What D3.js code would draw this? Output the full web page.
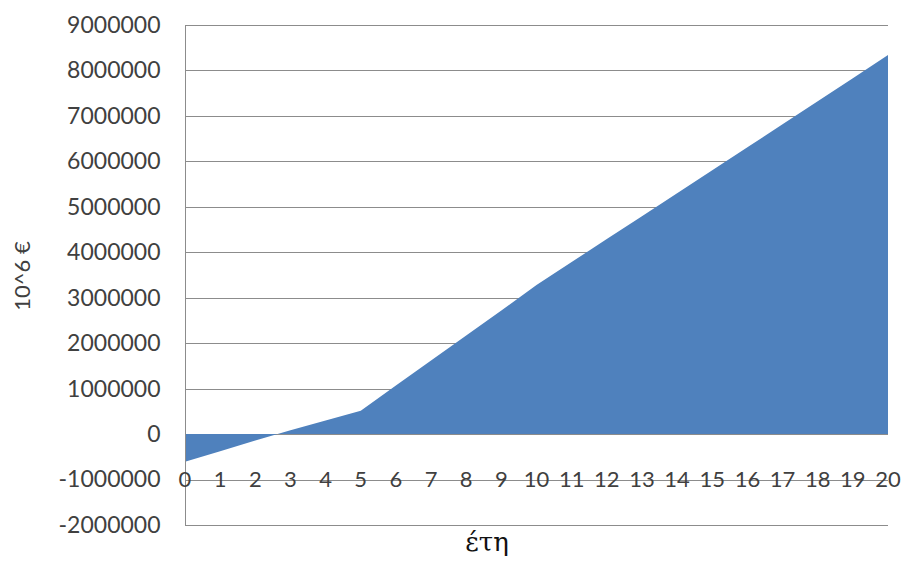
<!DOCTYPE html>
<html>
<head>
<meta charset="utf-8">
<script src="https://cdn.jsdelivr.net/npm/d3@7"></script>
<style>
  html, body { margin: 0; padding: 0; background: #fff; }
  svg { display: block; }
</style>
</head>
<body>
<svg id="chart" width="904" height="563"></svg>
<script>
// Years on the horizontal axis
const years = [0, 1, 2, 3, 4, 5, 6, 7, 8, 9, 10, 11, 12, 13, 14, 15, 16, 17, 18, 19, 20];
// Cumulative value per year
const values = [-610000, -376000, -142000, 85000, 300000, 515000, 1070000, 1620000, 2170000, 2720000,
                3280000, 3785000, 4290000, 4795000, 5300000, 5805000, 6310000, 6815000, 7320000, 7830000, 8340000];
// Value-axis tick labels
const yTicks = [-2000000, -1000000, 0, 1000000, 2000000, 3000000, 4000000, 5000000, 6000000, 7000000, 8000000, 9000000];

const yTitle = "10^6 €";
const xTitle = "έτη";

const svg = d3.select("#chart");
const plotLeft = 185, plotRight = 888, plotTop = 25, plotBottom = 525;

const x = d3.scaleLinear().domain([0, 20]).range([plotLeft, plotRight]);
const y = d3.scaleLinear().domain([-2000000, 9000000]).range([plotBottom, plotTop]);

const grid = "#8c8c8c";
const labelFont = "Lato, 'Open Sans', sans-serif";

// horizontal gridlines
svg.append("g")
  .selectAll("line")
  .data(yTicks)
  .join("line")
  .attr("x1", plotLeft).attr("x2", plotRight)
  .attr("y1", d => Math.round(y(d)) + 0.5)
  .attr("y2", d => Math.round(y(d)) + 0.5)
  .attr("stroke", grid)
  .attr("stroke-width", 1);

// filled area measured from zero
const area = d3.area()
  .x((d, i) => x(years[i]))
  .y0(y(0))
  .y1(d => y(d));

svg.append("path")
  .datum(values)
  .attr("d", area)
  .attr("fill", "#4f81bd");

// value axis (plain hyphen for negatives)
const yAxis = svg.append("g")
  .attr("transform", `translate(${plotLeft + 0.5},0)`)
  .call(d3.axisLeft(y).tickValues(yTicks).tickSize(0).tickPadding(25).tickFormat(d => String(d)));
yAxis.select(".domain").attr("stroke", grid).attr("d", `M0,${plotTop}V${plotBottom}`);
yAxis.selectAll("text")
  .attr("font-family", labelFont)
  .attr("font-size", 23)
  .attr("fill", "#404040");

// category labels along the -1000000 line
svg.append("g")
  .selectAll("text")
  .data(years)
  .join("text")
  .attr("x", d => x(d))
  .attr("y", y(-1000000) + 7)
  .attr("text-anchor", "middle")
  .attr("font-family", labelFont)
  .attr("font-size", 22)
  .attr("fill", "#404040")
  .text(d => d);

// axis titles
svg.append("text")
  .attr("transform", "translate(30,276) rotate(-90)")
  .attr("text-anchor", "middle")
  .attr("font-family", labelFont)
  .attr("font-size", 22)
  .attr("fill", "#404040")
  .text(yTitle);

svg.append("text")
  .attr("x", 487)
  .attr("y", 551)
  .attr("text-anchor", "middle")
  .attr("font-family", "'DejaVu Serif', serif")
  .attr("font-size", 26)
  .attr("fill", "#111")
  .text(xTitle);
</script>
</body>
</html>
